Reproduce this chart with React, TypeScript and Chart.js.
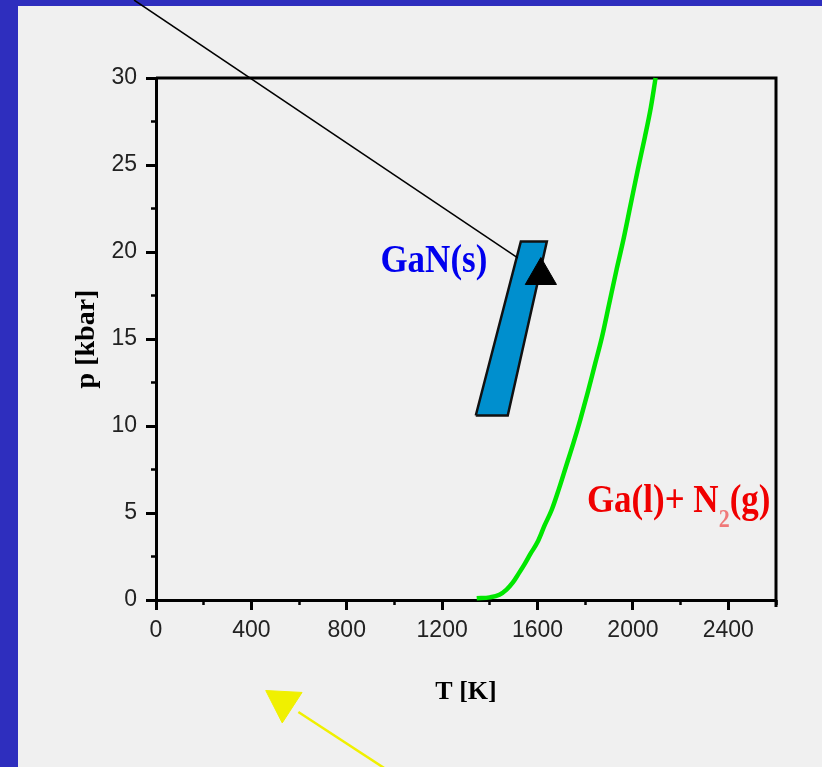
import { useEffect, useRef } from "react";
import { Chart, registerables } from "chart.js";

Chart.register(...registerables);

// ---- data (T in K, p in kbar) ----
const xTickValues = [0, 400, 800, 1200, 1600, 2000, 2400];
const yTickValues = [0, 5, 10, 15, 20, 25, 30];

// Ga(l)+N2(g) / GaN(s) equilibrium curve (green)
const greenT = [1345, 1400, 1440, 1470, 1495, 1520, 1545, 1570, 1600, 1630, 1660, 1690, 1720, 1750, 1780, 1810, 1840, 1870, 1900, 1930, 1960, 1990, 2020, 2050, 2075, 2095];
const greenP = [0.1, 0.15, 0.3, 0.6, 0.98, 1.5, 2.05, 2.65, 3.33, 4.3, 5.2, 6.4, 7.7, 9.0, 10.4, 11.9, 13.5, 15.1, 17.0, 18.9, 20.7, 22.7, 24.7, 26.6, 28.3, 30.0];

// GaN(s) growth band (closed polygon)
const bandT = [1341, 1475, 1639, 1530, 1341];
const bandP = [10.6, 10.6, 20.6, 20.6, 10.6];

// thin black pointer line
const pointerT = [-92, 1517];
const pointerP = [34.48, 19.66];

// black triangle marker
const markerT = [1614];
const markerP = [18.65];

// yellow arrow (below the axis)
const arrowShaftT = [597, 984];
const arrowShaftP = [-6.44, -9.9];
const arrowHeadT = [534];
const arrowHeadP = [-5.86];

// text labels
const ganLabel = { T: 941, p: 18.85 };
const gasLabel = { T: 1807, p: 5.06 };

const ARROW_HEAD_INDEX = 4;

const toXY = (xs: number[], ys: number[]) => xs.map((x, i) => ({ x, y: ys[i] }));

const bgPlugin = {
  id: "bgFrame",
  beforeDraw(chart: any) {
    const ctx = chart.ctx;
    ctx.save();
    ctx.fillStyle = "#2e2ebe";
    ctx.fillRect(0, 0, chart.width, chart.height);
    ctx.fillStyle = "#f0f0f0";
    ctx.fillRect(18, 6, chart.width - 18, chart.height - 6);
    ctx.restore();
  },
  beforeDatasetsDraw(chart: any) {
    const { ctx, chartArea: a } = chart;
    ctx.save();
    ctx.strokeStyle = "#000";
    ctx.lineWidth = 3;
    ctx.beginPath();
    ctx.moveTo(a.left, a.top);
    ctx.lineTo(a.right, a.top);
    ctx.lineTo(a.right, a.bottom + 7);
    ctx.stroke();
    ctx.restore();
  },
};

// points outside the chart area are skipped by Chart.js; draw the arrow-head
// point element again with an unbounded area
const outsidePointPlugin = {
  id: "outsidePoints",
  afterDatasetsDraw(chart: any) {
    const meta = chart.getDatasetMeta(ARROW_HEAD_INDEX);
    const big = { left: -1e5, top: -1e5, right: 1e5, bottom: 1e5 };
    meta.data.forEach((el: any) => el.draw(chart.ctx, big));
  },
};

const textPlugin = {
  id: "phaseLabels",
  afterDatasetsDraw(chart: any) {
    const { ctx } = chart;
    const xs = chart.scales.x;
    const ys = chart.scales.y;
    ctx.save();
    ctx.textAlign = "left";
    ctx.textBaseline = "alphabetic";
    {
      const px = xs.getPixelForValue(ganLabel.T);
      const py = ys.getPixelForValue(ganLabel.p);
      ctx.save();
      ctx.translate(px, py);
      ctx.scale(1, 1.17);
      ctx.font = 'bold 35px "Liberation Serif"';
      ctx.fillStyle = "#0000ee";
      ctx.fillText("GaN(s)", 0, 0);
      ctx.restore();
    }
    {
      const px = xs.getPixelForValue(gasLabel.T);
      const py = ys.getPixelForValue(gasLabel.p);
      ctx.save();
      ctx.translate(px, py);
      ctx.scale(1, 1.17);
      ctx.fillStyle = "#f00000";
      ctx.font = 'bold 35px "Liberation Serif"';
      const a = "Ga(l)+ N";
      ctx.fillText(a, 0, 0);
      let w = ctx.measureText(a).width;
      ctx.font = 'bold 22px "Liberation Serif"';
      ctx.fillStyle = "rgba(240,0,0,0.5)";
      ctx.fillText("2", w, 13);
      w += ctx.measureText("2").width;
      ctx.fillStyle = "#f00000";
      ctx.font = 'bold 35px "Liberation Serif"';
      ctx.fillText("(g)", w, 0);
      ctx.restore();
    }
    ctx.restore();
  },
};

export default function App() {
  const ref = useRef<HTMLCanvasElement | null>(null);

  useEffect(() => {
    if (!ref.current) return;
    const tickFont = { family: '"Liberation Sans"', size: 23 };
    const chart = new Chart(ref.current, {
      type: "scatter",
      data: {
        datasets: [
          {
            label: "marker",
            data: toXY(markerT, markerP),
            pointStyle: "triangle",
            pointRadius: 18,
            backgroundColor: "#000",
            borderColor: "#000",
            borderWidth: 1,
            showLine: false,
          },
          {
            label: "pointer",
            data: toXY(pointerT, pointerP),
            showLine: true,
            borderColor: "#000",
            borderWidth: 1.5,
            pointRadius: 0,
            clip: false as any,
          },
          {
            label: "GaN band",
            data: toXY(bandT, bandP),
            showLine: true,
            borderColor: "#111",
            borderWidth: 2.5,
            borderJoinStyle: "miter",
            backgroundColor: "#008fce",
            fill: "shape" as any,
            pointRadius: 0,
          },
          {
            label: "equilibrium",
            data: toXY(greenT, greenP),
            showLine: true,
            borderColor: "#00e600",
            borderWidth: 4.5,
            pointRadius: 0,
            cubicInterpolationMode: "monotone",
            clip: false as any,
          },
          {
            label: "arrow head",
            data: toXY(arrowHeadT, arrowHeadP),
            pointStyle: "triangle",
            pointRadius: 21,
            rotation: -57,
            backgroundColor: "#f0f000",
            borderColor: "#f0f000",
            borderWidth: 1,
            showLine: false,
            clip: false as any,
          },
          {
            label: "arrow shaft",
            data: toXY(arrowShaftT, arrowShaftP),
            showLine: true,
            borderColor: "#f0f000",
            borderWidth: 2.5,
            pointRadius: 0,
            clip: false as any,
          },
        ],
      },
      options: {
        animation: false,
        responsive: false,
        layout: { padding: { left: 0, top: 78, right: 46, bottom: 0 } },
        plugins: { legend: { display: false }, tooltip: { enabled: false } },
        scales: {
          x: {
            type: "linear",
            position: "bottom",
            weight: 1,
            min: 0,
            max: 2600,
            afterBuildTicks: (s: any) => {
              s.ticks = xTickValues.map((v) => ({ value: v }));
            },
            afterFit: (s: any) => {
              s.height = 167;
            },
            ticks: {
              callback: (v: any) => String(v),
              font: tickFont,
              color: "#222",
              padding: 7,
              maxRotation: 0,
              autoSkip: false,
            },
            grid: { drawOnChartArea: false, tickLength: 10, tickWidth: 3, tickColor: "#000" },
            border: { display: true, width: 3, color: "#000" },
            title: {
              display: true,
              text: "T [K]",
              font: { family: '"Liberation Serif"', size: 26, weight: "bold" },
              color: "#000",
              padding: { top: 0, bottom: 59 },
            },
          },
          xMinor: {
            type: "linear",
            position: "bottom",
            weight: 0,
            min: 0,
            max: 2600,
            afterFit: (s: any) => {
              s.height = 0;
            },
            ticks: { display: false, stepSize: 200 },
            grid: { drawOnChartArea: false, tickLength: 5, tickWidth: 2.5, tickColor: "#000" },
            border: { display: false },
          },
          y: {
            type: "linear",
            position: "left",
            weight: 1,
            min: 0,
            max: 30,
            afterBuildTicks: (s: any) => {
              s.ticks = yTickValues.map((v) => ({ value: v }));
            },
            afterFit: (s: any) => {
              s.width = 156;
            },
            ticks: {
              callback: (v: any) => String(v),
              font: tickFont,
              color: "#222",
              padding: 9,
              autoSkip: false,
            },
            grid: { drawOnChartArea: false, tickLength: 10, tickWidth: 3, tickColor: "#000" },
            border: { display: true, width: 3, color: "#000" },
            title: {
              display: true,
              text: "p [kbar]",
              font: { family: '"Liberation Serif"', size: 28, weight: "bold" },
              color: "#000",
              padding: { top: 70, bottom: 0 },
            },
          },
          yMinor: {
            type: "linear",
            position: "left",
            weight: 0,
            min: 0,
            max: 30,
            afterFit: (s: any) => {
              s.width = 0;
            },
            ticks: { display: false, stepSize: 2.5 },
            grid: { drawOnChartArea: false, tickLength: 5, tickWidth: 2.5, tickColor: "#000" },
            border: { display: false },
          },
        },
      } as any,
      plugins: [bgPlugin, outsidePointPlugin, textPlugin],
    });
    return () => chart.destroy();
  }, []);

  return (
    <div style={{ position: "fixed", left: 0, top: 0, width: 822, height: 767 }}>
      <canvas ref={ref} width={822} height={767} style={{ display: "block" }} />
    </div>
  );
}
